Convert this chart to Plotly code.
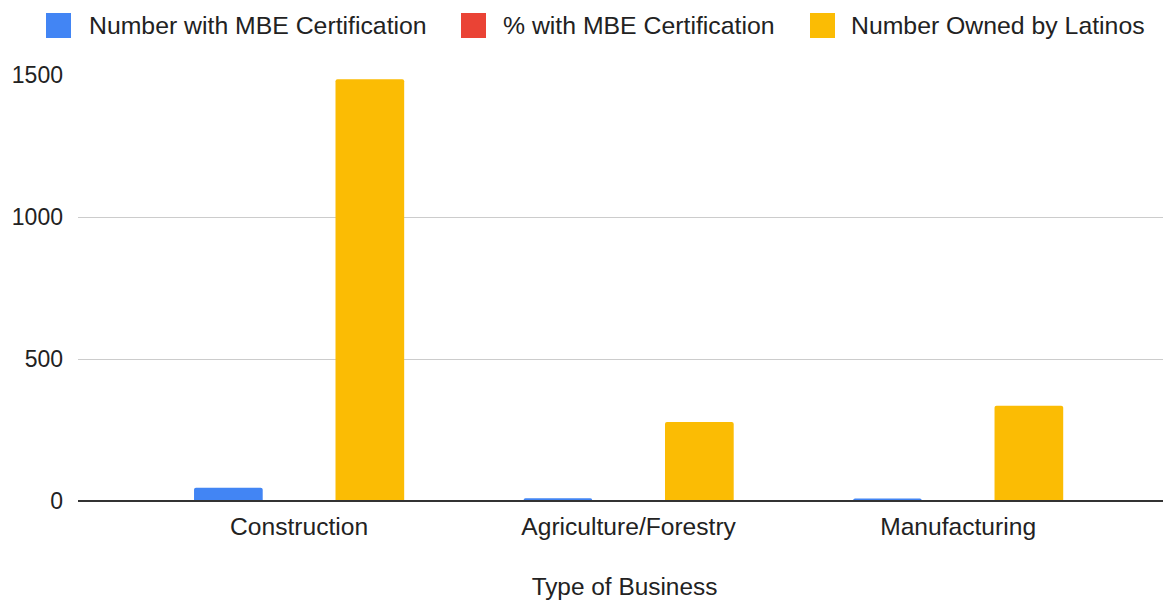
import plotly.graph_objects as go

categories = ["Construction", "Agriculture/Forestry", "Manufacturing"]
num_mbe = [47, 10, 9]
pct_mbe = [0.031, 0.025, 0.021]
num_latino = [1485, 278, 335]
series_names = ["Number with MBE Certification", "% with MBE Certification", "Number Owned by Latinos"]
colors = ["#4285F4", "#EA4335", "#FBBC04"]
y_ticks = [0, 500, 1000, 1500]

# page body has an 8px default margin; size the figure so the page is 1171x603
OFF = 8
W, H = 1171 - OFF, 603 - OFF
# plot area in page pixels: x 78..1171, y 75..501
L, R, T, B = 78 - OFF, 0, 75 - OFF, 603 - 501
PW, PH = W - L - R, H - T - B
FONT = "Liberation Sans, Arial, Helvetica, sans-serif"
TXT = "#222222"

def px_x(p):
    return (p - OFF - L) / PW

def px_y(p):
    return (T + PH - (p - OFF)) / PH

fig = go.Figure()
for name, vals, c in zip(series_names, [num_mbe, pct_mbe, num_latino], colors):
    fig.add_trace(go.Bar(x=list(range(len(categories))), y=vals, name=name, marker_color=c,
                         marker_line_width=0, showlegend=False))

# custom legend (swatch + label) to match the large rounded swatches
legend_swatch_x = [46, 461, 810]
legend_text_x = [87, 501, 849]
shapes, annos = [], []
for name, c, sx, tx in zip(series_names, colors, legend_swatch_x, legend_text_x):
    shapes.append(dict(type="rect", xref="paper", yref="paper",
                       x0=px_x(sx), x1=px_x(sx + 25), y0=px_y(38), y1=px_y(13),
                       fillcolor=c, line=dict(width=0), layer="above"))
    annos.append(dict(text=name, xref="paper", yref="paper", x=px_x(tx), y=px_y(25),
                      xanchor="left", yanchor="middle", showarrow=False,
                      font=dict(family=FONT, size=24.8, color=TXT)))

# baseline (axis line at zero) drawn above the bars, unclipped
shapes.append(dict(type="line", xref="paper", yref="paper", x0=0, x1=1, y0=0, y1=0,
                   line=dict(color="#333333", width=2), layer="above"))

fig.update_layout(
    width=W, height=H,
    margin=dict(l=L, r=R, t=T, b=B, autoexpand=False),
    paper_bgcolor="white", plot_bgcolor="white",
    font=dict(family=FONT, size=24, color=TXT),
    barmode="group", bargap=0.356, bargroupgap=0.029, barcornerradius=2,
    showlegend=False,
    shapes=shapes, annotations=annos,
)
fig.update_xaxes(range=[-0.671, 2.646], tickvals=list(range(len(categories))), ticktext=categories,
                 showgrid=False, showline=False, ticks="", zeroline=False, automargin=False,
                 tickfont=dict(size=24.6), ticklabelstandoff=8,
                 title=dict(text="Type of Business", font=dict(size=24.4), standoff=39))
fig.update_yaxes(range=[0, 1500], tickvals=y_ticks, showgrid=True, gridcolor="#CCCCCC", gridwidth=1,
                 zeroline=False, ticks="",
                 ticklabelstandoff=14, automargin=False, tickfont=dict(size=23))

fig.write_html("out.html")
